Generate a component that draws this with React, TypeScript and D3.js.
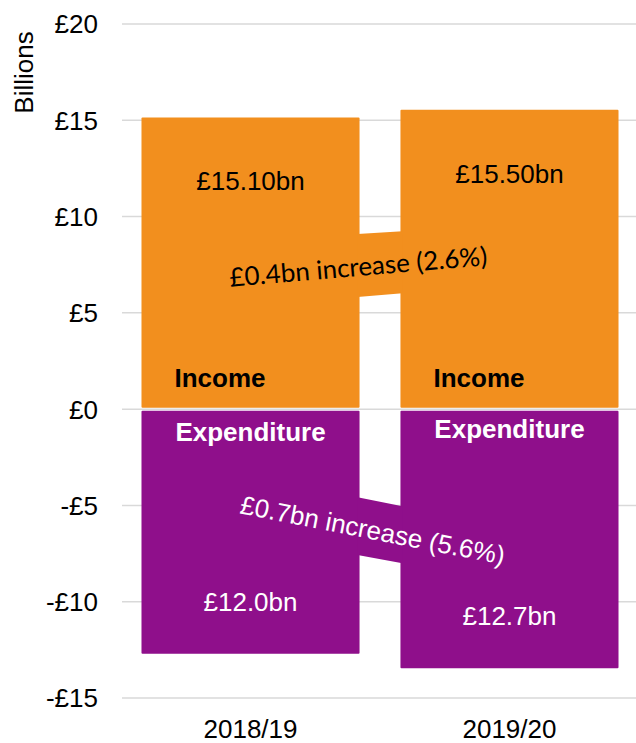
import React, { useEffect } from 'react';
import * as d3 from 'd3';

// values (billions)
const years = ['2018/19', '2019/20'];
const income = [15.15, 15.55];
const expenditure = [-12.7, -13.45];
const incomeLabels = ['£15.10bn', '£15.50bn'];
const expenditureLabels = ['£12.0bn', '£12.7bn'];
const yTicks = [20, 15, 10, 5, 0, -5, -10, -15];

// connector bands between the bars: [top, bottom] at left gap edge, then right gap edge
const incomeBand = [[9.09, 5.82], [9.24, 6.02]];
const expenditureBand = [[-4.57, -7.58], [-5.04, -8.0]];
const incomeChange = '£0.4bn increase (2.6%)';
const expenditureChange = '£0.7bn increase (5.6%)';

const W = 636;
const H = 743;
const ORANGE = '#f28f1e';
const PURPLE = '#8f0f8b';
const FONT = 'Arial, "Liberation Sans", sans-serif';

const tickFmt = (d: number) => (d < 0 ? `-£${-d}` : `£${d}`);

export default function App() {
  useEffect(() => {
    document.body.style.margin = '0';
  }, []);

  const margin = { top: 24, left: 122, bottom: 45 };
  const y = d3.scaleLinear().domain([20, -15]).range([margin.top, H - margin.bottom]);
  const x = d3.scaleBand<string>()
    .domain(years)
    .range([margin.left + 1, W + 1])
    .paddingInner(0.158)
    .paddingOuter(0.0714);

  const bw = x.bandwidth();
  const gapL = (x(years[0]) as number) + bw;
  const gapR = x(years[1]) as number;

  const bandPath = (b: number[][]) =>
    `M${gapL - 2},${y(b[0][0])}L${gapR + 2},${y(b[1][0])}L${gapR + 2},${y(b[1][1])}L${gapL - 2},${y(b[0][1])}Z`;

  return (
    <svg width={W} height={H} style={{ display: 'block' }} fontFamily={FONT}>
      {/* gridlines + y ticks */}
      {yTicks.map(t => (
        <g key={t}>
          <line x1={margin.left} x2={W} y1={y(t)} y2={y(t)} stroke="#d9d9d9" strokeWidth={1.5} />
          <text x={98} y={y(t)} dy="0.36em" textAnchor="end" fontSize={26} fill="#000">{tickFmt(t)}</text>
        </g>
      ))}
      <text transform="translate(33,72.5) rotate(-90)" textAnchor="middle" fontSize={26} fill="#000">Billions</text>

      {/* bars */}
      {years.map((yr, i) => {
        const bx = x(yr) as number;
        return (
          <g key={yr}>
            <rect x={bx} y={y(income[i])} width={bw} height={y(0) - 1.5 - y(income[i])} fill={ORANGE} rx={1} />
            <rect x={bx} y={y(0) + 1.5} width={bw} height={y(expenditure[i]) - y(0) - 1.5} fill={PURPLE} rx={1} />
          </g>
        );
      })}

      {/* connector bands */}
      <path d={bandPath(incomeBand)} fill={ORANGE} />
      <path d={bandPath(expenditureBand)} fill={PURPLE} />

      {/* bar labels */}
      {years.map((yr, i) => {
        const bx = x(yr) as number;
        const cx = bx + bw / 2;
        return (
          <g key={yr + 'l'} fontSize={26}>
            <text x={cx} y={y(income[i]) + 73} textAnchor="middle" fill="#000">{incomeLabels[i]}</text>
            <text x={bx + 33} y={387} fill="#000" fontWeight="bold">Income</text>
            <text x={cx} y={441 - i * 3} textAnchor="middle" fill="#fff" fontWeight="bold">Expenditure</text>
            <text x={cx} y={y(expenditure[i]) - 43} textAnchor="middle" fill="#fff">{expenditureLabels[i]}</text>
            <text x={cx} y={H - 5} textAnchor="middle" fill="#000">{yr}</text>
          </g>
        );
      })}

      {/* change annotations */}
      <text transform="translate(359,276) rotate(-4.8)" textAnchor="middle" fontSize={26}
        fontFamily='Lato, "Open Sans", sans-serif' fill="#000">{incomeChange}</text>
      <text transform="translate(371,539) rotate(11)" textAnchor="middle" fontSize={26} fill="#fff">{expenditureChange}</text>
    </svg>
  );
}
